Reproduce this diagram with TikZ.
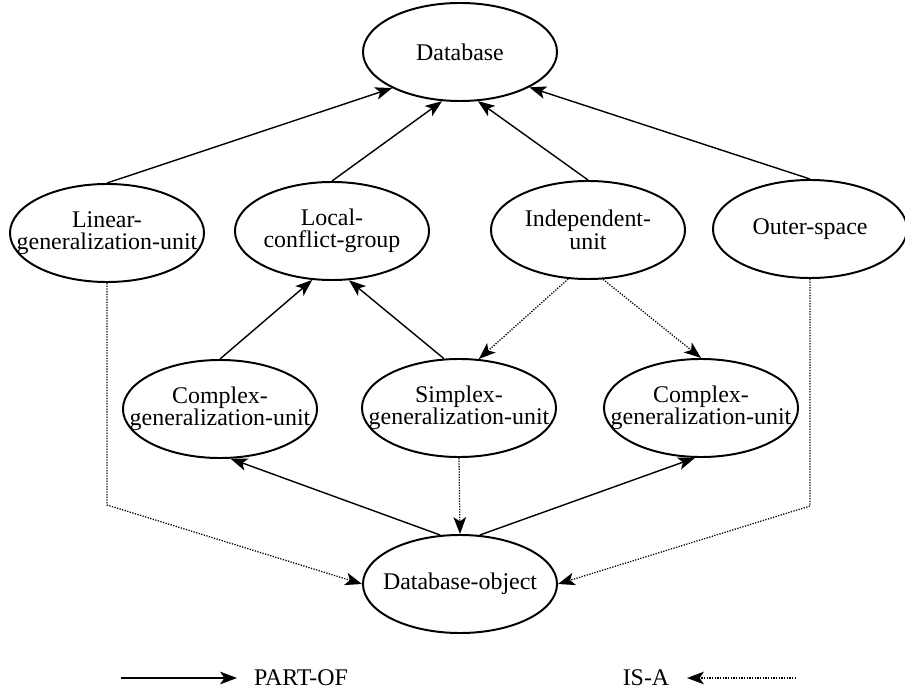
\documentclass[tikz,border=0pt]{standalone}
\usepackage{fontspec}
\setmainfont{Liberation Serif}
\usetikzlibrary{arrows.meta,positioning,shapes.geometric}

\begin{document}
\begin{tikzpicture}[
    x=0.025cm, y=-0.025cm,
    >={Stealth[length=12pt,width=9pt,inset=3pt]},
    % fixed ellipse size, the text must not widen it
    unit/.style={ellipse, draw=black, line width=1.4pt, minimum width=4.85cm, minimum height=2.45cm, inner xsep=-1cm, inner ysep=0pt, align=center, font=\fontsize{17}{16}\selectfont},
    partof/.style={->, line width=1pt},
    isa/.style={->, line width=0.9pt, densely dotted},
    legend/.style={inner sep=0pt, font=\fontsize{17}{16}\selectfont}
  ]
  \useasboundingbox (0,0) rectangle (905,694);

  \node[unit] (db)  at (460,52)  {Database};
  \node[unit] (lin) at (107,233) {Linear-\\generalization-unit};
  \node[unit] (lcg) at (332,231) {Local-\\conflict-group};
  \node[unit] (ind) at (588,230) {Independent-\\unit};
  \node[unit] (out) at (810,229) {Outer-space};
  \node[unit] (cgl) at (220,409) {Complex-\\generalization-unit};
  \node[unit] (sgu) at (459,408) {Simplex-\\generalization-unit};
  \node[unit] (cgr) at (701,408) {Complex-\\generalization-unit};
  \node[unit] (dbo) at (460,584) {Database-object};

  \draw[partof] (lin.north) -- (db.208);
  \draw[partof] (lcg.north) -- (db.250);
  \draw[partof] (ind.north) -- (db.290);
  \draw[partof] (out.north) -- (db.333);
  \draw[partof] (cgl.north) -- (lcg.248);
  \draw[partof] (sgu.107) -- (lcg.289);
  \draw[isa] (ind.248) -- (sgu.68);
  \draw[isa] (ind.287) -- (cgr.north);
  \draw[partof] (dbo.112) -- (cgl.282);
  \draw[partof] (dbo.68) -- (cgr.263);
  \draw[isa] (sgu.south) -- (dbo.north);
  \draw[isa] (lin.south) -- ++(0,222) -- (dbo.west);
  \draw[isa] (out.south) -- ++(0,227) -- (dbo.east);

  % legend
  \coordinate (pa) at (121,678);
  \coordinate (pb) at (237,678);
  \draw[partof] (pa) -- (pb);
  \node[legend, right=0.42cm of pb] (pol) {PART-OF};
  \node[legend] (isl) at (646,678) {IS-A};
  \coordinate (ia) at (687,678);
  \coordinate (ib) at (796,678);
  \draw[isa] (ib) -- (ia);
\end{tikzpicture}
\end{document}
